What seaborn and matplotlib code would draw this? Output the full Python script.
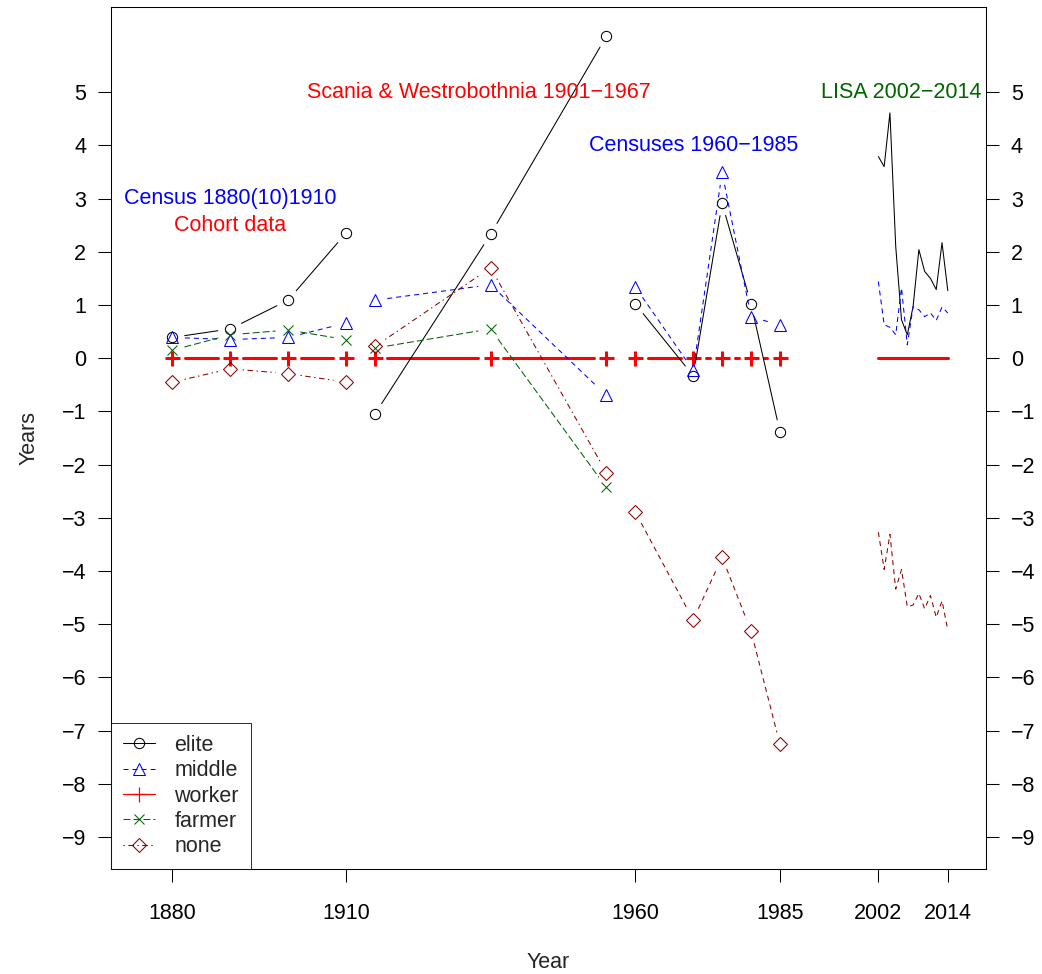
import numpy as np
import pandas as pd
import matplotlib
matplotlib.use("Agg")
import matplotlib.pyplot as plt
from matplotlib.lines import Line2D
import seaborn as sns

# Census 1880(10)1910
census_years = [1880, 1890, 1900, 1910]
census_elite = [0.39, 0.55, 1.09, 2.35]
census_middle = [0.39, 0.35, 0.39, 0.66]
census_worker = [0, 0, 0, 0]
census_farmer = [0.15, 0.44, 0.53, 0.35]
census_none = [-0.45, -0.20, -0.29, -0.45]

# Scania & Westrobothnia 1901-1967 (cohort data)
scania_years = [1915, 1935, 1955]
scania_elite = [-1.05, 2.33, 6.05]
scania_middle = [1.09, 1.38, -0.70]
scania_worker = [0, 0, 0]
scania_farmer = [0.19, 0.55, -2.43]
scania_none = [0.22, 1.70, -2.15]

# Censuses 1960-1985
cens_years = [1960, 1970, 1975, 1980, 1985]
cens_elite = [1.02, -0.33, 2.91, 1.02, -1.39]
cens_middle = [1.34, -0.23, 3.49, 0.78, 0.62]
cens_worker = [0, 0, 0, 0, 0]
cens_none = [-2.89, -4.92, -3.74, -5.13, -7.26]

# LISA 2002-2014
lisa_years = list(range(2002, 2015))
lisa_elite = [3.79, 3.60, 4.61, 2.10, 0.72, 0.44, 0.97, 2.04, 1.63, 1.50, 1.29, 2.17, 1.27]
lisa_middle = [1.44, 0.63, 0.58, 0.44, 1.32, 0.25, 0.97, 0.91, 0.78, 0.85, 0.71, 0.96, 0.85]
lisa_worker = [0] * 13
lisa_none = [-3.27, -3.97, -3.31, -4.34, -3.97, -4.67, -4.64, -4.42, -4.71, -4.46, -4.87, -4.56, -5.11]

x_ticks = [1880, 1910, 1960, 1985, 2002, 2014]
y_ticks = list(range(-9, 6))

sns.set_theme(style="ticks")
plt.rcParams['font.family'] = ['Liberation Sans', 'DejaVu Sans']
plt.rcParams['lines.scale_dashes'] = False

SOLID = '-'
DASHED = (0, (3.6, 2.9))
LONGDASH = (0, (5.0, 2.2))
DOTDASH = (0, (1.0, 2.5, 4.0, 2.5))

styles = {
    'elite': dict(color='black', marker='o', ms=7.4, mew=0.75),
    'middle': dict(color='blue', marker='^', ms=8.6, mew=0.75),
    'worker': dict(color='red', marker='+', ms=10.8, mew=2.2),
    'farmer': dict(color='darkgreen', marker='x', ms=7.7, mew=0.75),
    'none': dict(color='darkred', marker='D', ms=7.4, mew=0.75),
}

fig = plt.figure(figsize=(10.42, 9.74), dpi=100)
ax = fig.add_axes([111 / 1042, 1 - 869 / 974, 875 / 1042, 862 / 974])
ax.set_xlim(1869.4, 2020.6)
ax.set_ylim(-9.6, 6.6)


def gapped(xs, ys, gap=12.5):
    # R type="b": line segments stop short of the points
    pts = ax.transData.transform(np.column_stack([xs, ys]))
    inv = ax.transData.inverted()
    rows = []
    for i in range(len(pts) - 1):
        p, q = pts[i], pts[i + 1]
        d = np.hypot(*(q - p))
        if d <= 2 * gap:
            continue
        u = (q - p) / d
        a = inv.transform(p + u * gap)
        b = inv.transform(q - u * gap)
        rows += [(i, a[0], a[1]), (i, b[0], b[1])]
    return pd.DataFrame(rows, columns=['seg', 'x', 'y'])


def both(xs, ys, key, ls, lw=0.75):
    st = styles[key]
    df = gapped(xs, ys)
    if len(df):
        sns.lineplot(data=df, x='x', y='y', units='seg', estimator=None, sort=False,
                     color=st['color'], linestyle=ls, linewidth=lw, ax=ax)
    sns.lineplot(x=xs, y=ys, color=st['color'], linestyle='none', marker=st['marker'],
                 markersize=st['ms'], markerfacecolor='none',
                 markeredgecolor=st['color'], markeredgewidth=st['mew'], ax=ax)


def line_only(xs, ys, key, ls, lw=0.75):
    sns.lineplot(x=xs, y=ys, color=styles[key]['color'], linestyle=ls,
                 linewidth=lw, sort=False, ax=ax)


# census 1880-1910
both(census_years, census_worker, 'worker', SOLID, lw=2.2)
both(census_years, census_elite, 'elite', SOLID)
both(census_years, census_middle, 'middle', DASHED)
both(census_years, census_farmer, 'farmer', LONGDASH)
both(census_years, census_none, 'none', DOTDASH)

# Scania cohorts
both(scania_years, scania_worker, 'worker', SOLID, lw=2.2)
both(scania_years, scania_elite, 'elite', SOLID)
both(scania_years, scania_middle, 'middle', DASHED)
both(scania_years, scania_farmer, 'farmer', LONGDASH)
both(scania_years, scania_none, 'none', DOTDASH)

# censuses 1960-1985
both(cens_years, cens_worker, 'worker', SOLID, lw=2.2)
both(cens_years, cens_elite, 'elite', SOLID)
both(cens_years, cens_middle, 'middle', DASHED)
both(cens_years, cens_none, 'none', DASHED)

# LISA, lines only
line_only(lisa_years, lisa_worker, 'worker', SOLID, lw=2.2)
line_only(lisa_years, lisa_elite, 'elite', SOLID)
line_only(lisa_years, lisa_middle, 'middle', DASHED)
line_only(lisa_years, lisa_none, 'none', DASHED)

fs = 15.5
ax.text(1890, 3.0, 'Census 1880(10)1910', color='blue', fontsize=fs, ha='center', va='center')
ax.text(1890, 2.5, 'Cohort data', color='red', fontsize=fs, ha='center', va='center')
ax.text(1933, 5.0, 'Scania & Westrobothnia 1901\u22121967', color='red', fontsize=fs,
        ha='center', va='center')
ax.text(1970, 4.0, 'Censuses 1960\u22121985', color='blue', fontsize=fs, ha='center', va='center')
ax.text(2006.0, 5.0, 'LISA 2002\u22122014', color='darkgreen', fontsize=fs, ha='center', va='center')

ax.set_xticks(x_ticks)
ax.set_yticks(y_ticks)
ax.set_yticklabels([str(v).replace('-', '\u2212') for v in y_ticks])
ax.tick_params(axis='both', direction='out', length=9.4, width=0.75, colors='black',
               labelsize=fs)
ax.tick_params(axis='x', pad=15)
ax.tick_params(axis='y', pad=8.5, right=True, labelright=True)
for s in ax.spines.values():
    s.set_color('black')
    s.set_linewidth(0.75)
    s.set_visible(True)

ax.set_xlabel('Year', fontsize=fs, labelpad=20)
ax.set_ylabel('Years', fontsize=fs, labelpad=16)

handles = [
    Line2D([], [], color='black', ls=SOLID, lw=0.75, marker='o', ms=7.4,
           mfc='none', mec='black', mew=0.75),
    Line2D([], [], color='blue', ls=DASHED, lw=0.75, marker='^', ms=8.6,
           mfc='none', mec='blue', mew=0.75),
    Line2D([], [], color='red', ls=SOLID, lw=0.9, marker='+', ms=10.8,
           mfc='red', mec='red', mew=0.9),
    Line2D([], [], color='darkgreen', ls=LONGDASH, lw=0.75, marker='x', ms=7.7,
           mec='darkgreen', mew=0.75),
    Line2D([], [], color='darkred', ls=DOTDASH, lw=0.75, marker='D', ms=7.4,
           mfc='none', mec='darkred', mew=0.75),
]
leg = ax.legend(handles, ['elite', 'middle', 'worker', 'farmer', 'none'], loc='lower left',
                borderaxespad=0, fontsize=fs, frameon=True, fancybox=False,
                handlelength=1.5, handletextpad=0.9, labelspacing=0.2,
                borderpad=0.55)
leg.get_frame().set_edgecolor('black')
leg.get_frame().set_linewidth(0.75)

fig.savefig('out.png', dpi=100)
